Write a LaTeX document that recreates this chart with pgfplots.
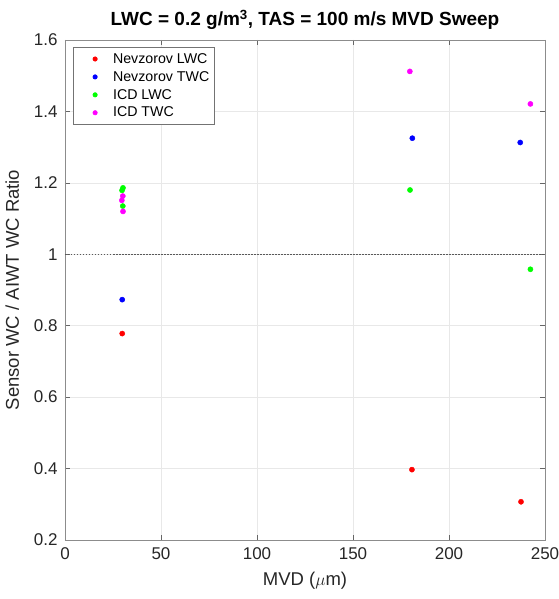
\documentclass[border=0pt]{standalone}
\usepackage{pgfplots}
\pgfplotsset{compat=1.18}
\usepackage{fontspec}
\setmainfont{Liberation Sans}
\definecolor{cred}{rgb}{1,0,0}
\definecolor{cblue}{rgb}{0,0,1}
\definecolor{cgreen}{rgb}{0,1,0}
\definecolor{cmag}{rgb}{1,0,1}
\definecolor{tickgray}{rgb}{0.15,0.15,0.15}
\begin{document}
\begin{tikzpicture}
\begin{axis}[
  scale only axis,
  width=480pt, height=500pt,
  xmin=0, xmax=250, ymin=0.2, ymax=1.6,
  xtick={0,50,100,150,200,250},
  ytick={0.2,0.4,0.6,0.8,1,1.2,1.4,1.6},
  yticklabels={0.2,0.4,0.6,0.8,1,1.2,1.4,1.6},
  /pgf/number format/assume math mode=true,
  tick align=inside,
  tick style={black!60, line width=0.5pt},
  major tick length=5pt,
  grid=major,
  grid style={black!9, line width=0.6pt},
  axis line style={black!45, line width=0.6pt},
  tick label style={font=\fontsize{17}{19}\selectfont, text=tickgray},
  xticklabel style={yshift=-4pt},
  yticklabel style={xshift=-4pt},
  xlabel={MVD ($\mu$m)},
  ylabel={Sensor WC / AIWT WC Ratio},
  label style={font=\fontsize{18.5}{21}\selectfont, text=tickgray},
  xlabel style={yshift=-6pt},
  ylabel style={yshift=8pt},
  title={\textbf{LWC = 0.2 g/m$^{\mathbf{3}}$, TAS = 100 m/s MVD Sweep}},
  title style={font=\fontsize{19}{21}\selectfont, at={(0.5,1)}, anchor=south, yshift=1pt},
  legend style={at={(0.0167,0.986)}, anchor=north west, draw=black!55, line width=0.6pt, font=\fontsize{14.2}{17}\selectfont, row sep=2.5pt, inner xsep=3pt, inner ysep=4pt},
  legend cell align=left,
  legend image code/.code={\path (0,0) (1.2cm,0); \fill (0.65cm,0) circle (2.2pt);},
]
\addplot[only marks, mark=*, mark size=2.6pt, color=cred, mark options={draw=cred, fill=cred}] coordinates {(29.8,0.778) (180.7,0.397) (237.5,0.307)};
\addlegendentry{Nevzorov LWC}
\addplot[only marks, mark=*, mark size=2.6pt, color=cblue, mark options={draw=cblue, fill=cblue}] coordinates {(29.8,0.873) (180.9,1.325) (237.1,1.313)};
\addlegendentry{Nevzorov TWC}
\addplot[only marks, mark=*, mark size=2.6pt, color=cgreen, mark options={draw=cgreen, fill=cgreen}] coordinates {(30.2,1.186) (29.7,1.179) (30.1,1.135) (179.7,1.180) (242.4,0.958)};
\addlegendentry{ICD LWC}
\addplot[only marks, mark=*, mark size=2.6pt, color=cmag, mark options={draw=cmag, fill=cmag}] coordinates {(30.1,1.163) (29.6,1.151) (30.2,1.120) (179.6,1.512) (242.4,1.421)};
\addlegendentry{ICD TWC}
\addplot[black!65, dash pattern=on 1.5pt off 1.5pt, line width=0.7pt, forget plot] coordinates {(0,1) (250,1)};
\end{axis}
\pgfresetboundingbox
\useasboundingbox (-65pt,-59pt) rectangle (493pt,540pt);
\end{tikzpicture}
\end{document}
